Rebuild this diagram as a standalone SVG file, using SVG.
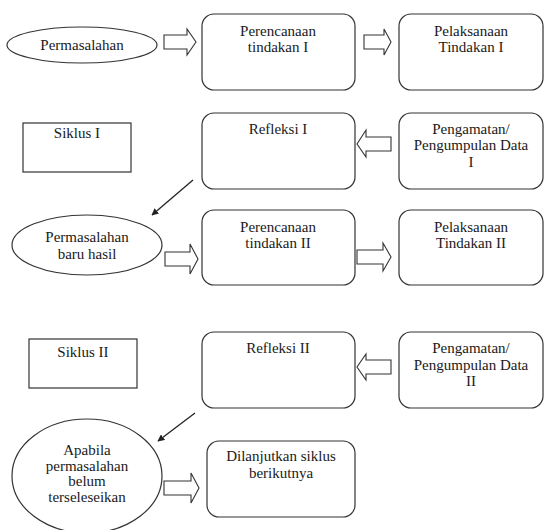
<svg xmlns="http://www.w3.org/2000/svg" width="544" height="530" viewBox="0 0 544 530" font-family="'Liberation Serif', 'Times New Roman', serif">
<defs>
<style>
.box{fill:#fff;stroke:#333;stroke-width:1.2}
.sq{fill:#fff;stroke:#333;stroke-width:1.2}
.ell{fill:#fff;stroke:#333;stroke-width:1.2}
.blk{fill:#fff;stroke:#333;stroke-width:1.1}
.ln{fill:none;stroke:#222;stroke-width:1.3}
text{font-family:'Liberation Serif','Times New Roman',serif;font-size:15px;fill:#1a1a1a;text-anchor:middle}
</style>
<marker id="ah" viewBox="0 0 10 10" refX="9" refY="5" markerWidth="7" markerHeight="7" orient="auto" markerUnits="userSpaceOnUse">
<path d="M0,0 L10,5 L0,10 z" fill="#222"/>
</marker>
</defs>
<rect width="544" height="530" fill="#fff"/>

<g id="permasalahan">
<ellipse class="ell" cx="82" cy="45" rx="75" ry="18"/>
<text x="82" y="50">Permasalahan</text>
</g>
<g id="perencanaan1">
<rect class="box" x="202" y="14" width="153" height="76" rx="12"/>
<text x="278" y="36">Perencanaan</text>
<text x="278" y="52">tindakan I</text>
</g>
<g id="pelaksanaan1">
<rect class="box" x="399" y="14" width="144" height="76" rx="12"/>
<text x="471" y="36">Pelaksanaan</text>
<text x="471" y="52">Tindakan I</text>
</g>
<g id="siklus1">
<rect class="sq" x="23" y="123" width="108" height="49"/>
<text x="77" y="138">Siklus I</text>
</g>
<g id="refleksi1">
<rect class="box" x="202" y="113" width="153" height="76" rx="12"/>
<text x="278" y="134">Refleksi I</text>
</g>
<g id="pengamatan1">
<rect class="box" x="399" y="113" width="144" height="76" rx="12"/>
<text x="471" y="134">Pengamatan/</text>
<text x="471" y="150">Pengumpulan Data</text>
<text x="471" y="167">I</text>
</g>
<g id="permasalahan-baru">
<ellipse class="ell" cx="87" cy="245" rx="75" ry="30"/>
<text x="87" y="242">Permasalahan</text>
<text x="87" y="259">baru hasil</text>
</g>
<g id="perencanaan2">
<rect class="box" x="202" y="210" width="153" height="75" rx="12"/>
<text x="278" y="232">Perencanaan</text>
<text x="278" y="248">tindakan II</text>
</g>
<g id="pelaksanaan2">
<rect class="box" x="399" y="210" width="144" height="75" rx="12"/>
<text x="471" y="232">Pelaksanaan</text>
<text x="471" y="248">Tindakan II</text>
</g>
<g id="siklus2">
<rect class="sq" x="29" y="339" width="108" height="49"/>
<text x="83" y="357">Siklus II</text>
</g>
<g id="refleksi2">
<rect class="box" x="202" y="332" width="153" height="76" rx="12"/>
<text x="278" y="353">Refleksi II</text>
</g>
<g id="pengamatan2">
<rect class="box" x="399" y="332" width="144" height="76" rx="12"/>
<text x="471" y="353">Pengamatan/</text>
<text x="471" y="370">Pengumpulan Data</text>
<text x="471" y="386">II</text>
</g>
<g id="apabila">
<ellipse class="ell" cx="87" cy="476" rx="75" ry="57"/>
<text x="87" y="455">Apabila</text>
<text x="87" y="471">permasalahan</text>
<text x="87" y="486">belum</text>
<text x="87" y="502">terseleseikan</text>
</g>
<g id="dilanjutkan">
<rect class="box" x="207" y="441" width="148" height="76" rx="12"/>
<text x="281" y="461">Dilanjutkan siklus</text>
<text x="281" y="478">berikutnya</text>
</g>

<g id="connectors">
<polygon class="blk" points="164,35 187,35 187,29 196,42 187,55 187,49 164,49"/>
<polygon class="blk" points="364,35 384,35 384,29 391,42 384,55 384,49 364,49"/>
<polygon class="blk" points="391,137 366,137 366,130 357,144 366,157 366,151 391,151"/>
<polygon class="blk" points="165,252 190,252 190,244 198,259 190,274 190,266 165,266"/>
<polygon class="blk" points="357,250 383,250 383,243 391,257 383,271 383,264 357,264"/>
<polygon class="blk" points="391,360 366,360 366,354 357,367 366,380 366,374 391,374"/>
<polygon class="blk" points="164,481 191,481 191,473 199,488 191,503 191,495 164,495"/>
<line class="ln" x1="193" y1="180" x2="152" y2="215" marker-end="url(#ah)"/>
<line class="ln" x1="195" y1="413" x2="158" y2="441" marker-end="url(#ah)"/>
</g>
</svg>
